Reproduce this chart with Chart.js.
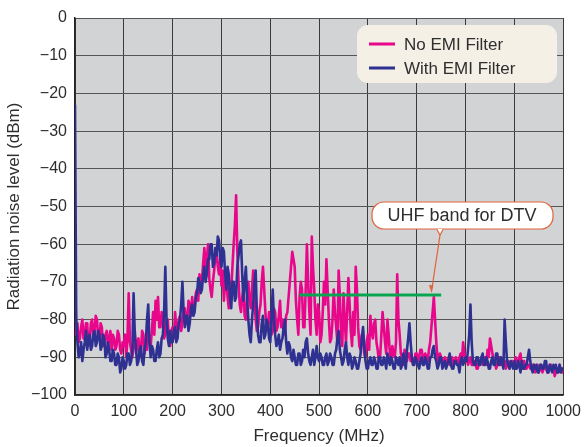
<!DOCTYPE html>
<html>
<head>
<meta charset="utf-8">
<script src="https://cdn.jsdelivr.net/npm/chart.js@4.4.1/dist/chart.umd.min.js"></script>
<style>
  html, body { margin: 0; padding: 0; background: #fff; }
  #wrap { width: 588px; height: 447px; position: relative; }
</style>
</head>
<body>
<div id="wrap"><canvas id="chart" width="588" height="447"></canvas></div>
<script>
// --- DATA (dBm, one value every 2.5 MHz from 0 to 1000 MHz) ---
const stepMHz = 2.5;
const freqs = Array.from({ length: 401 }, (_, i) => i * stepMHz);

// one row = 100 MHz
const noFilter = [
  -66,-84,-81,-86,-85,-82,-80,-85,-84,-81,-81,-87,-86,-81,-80,-84,-83,-79,-80,-85,-85,-81,-82,-87,-86,-84,-83,-87,-85,-83,-88,-84,-85,-88,-87,-83,-84,-88,-89,-86,
  -87,-84,-90,-85,-73,-86,-88,-90,-86,-83,-89,-86,-85,-90,-88,-83,-84,-89,-86,-88,-82,-86,-87,-83,-78,-84,-75,-80,-74,-82,-82,-78,-79,-85,-84,-80,-80,-86,-87,-83,
  -82,-85,-78,-82,-84,-80,-79,-83,-81,-77,-77,-81,-80,-75,-76,-79,-74,-78,-77,-73,-72,-75,-68,-72,-70,-65,-61,-66,-64,-60,-69,-72,-74,-70,-67,-63,-62,-66,-68,-64,
  -71,-67,-75,-70,-69,-74,-77,-70,-72,-66,-60,-55,-47,-62,-70,-76,-78,-74,-72,-79,-80,-74,-70,-75,-77,-72,-67,-74,-80,-83,-82,-78,-76,-70,-66,-72,-78,-83,-82,-78,
  -79,-84,-83,-77,-78,-83,-82,-79,-75,-82,-80,-84,-83,-79,-78,-74,-70,-66,-62,-64,-66,-75,-80,-84,-74,-70,-72,-82,-82,-72,-60,-70,-78,-84,-58,-66,-72,-80,-84,-76,
  -78,-86,-84,-78,-70,-76,-64,-72,-80,-86,-85,-80,-72,-78,-82,-86,-67,-74,-84,-87,-73,-80,-86,-78,-69,-76,-83,-87,-78,-84,-66,-72,-82,-87,-88,-84,-85,-89,-90,-86,
  -84,-88,-79,-83,-85,-81,-80,-86,-88,-91,-90,-84,-78,-82,-86,-89,-80,-84,-89,-91,-87,-89,-90,-86,-68,-80,-84,-89,-90,-92,-88,-90,-91,-89,-89,-91,-90,-92,-91,-89,
  -89,-91,-90,-88,-88,-90,-91,-89,-90,-91,-88,-86,-82,-78,-74,-80,-86,-90,-91,-89,-90,-92,-91,-90,-92,-91,-90,-92,-91,-90,-92,-91,-90,-91,-92,-90,-89,-91,-86,-89,
  -91,-90,-92,-91,-90,-92,-92,-91,-91,-93,-93,-91,-91,-90,-92,-91,-90,-92,-88,-90,-85,-87,-89,-91,-91,-93,-92,-90,-90,-92,-92,-91,-91,-93,-92,-91,-93,-92,-91,-92,
  -92,-90,-91,-92,-90,-89,-92,-91,-91,-93,-93,-92,-92,-93,-93,-92,-92,-94,-93,-92,-94,-93,-92,-94,-93,-92,-93,-94,-94,-92,-92,-93,-93,-95,-94,-93,-94,-92,-93,-94,
  -94
];

const withFilter = [
  -23,-80,-86,-90,-89,-86,-91,-88,-86,-83,-88,-85,-84,-88,-87,-84,-83,-87,-86,-83,-84,-88,-87,-84,-85,-90,-89,-86,-88,-91,-91,-88,-89,-92,-92,-89,-90,-94,-93,-90,
  -91,-93,-92,-89,-89,-92,-91,-88,-73,-84,-88,-92,-91,-88,-87,-91,-92,-88,-86,-80,-76,-86,-90,-87,-88,-91,-91,-88,-86,-90,-89,-85,-84,-78,-66,-80,-85,-87,-83,-86,
  -86,-83,-82,-86,-85,-81,-80,-76,-70,-78,-82,-79,-79,-83,-81,-77,-76,-79,-78,-74,-73,-69,-70,-73,-72,-68,-66,-70,-68,-64,-64,-60,-60,-66,-65,-61,-63,-58,-59,-64,
  -66,-61,-62,-68,-72,-66,-68,-74,-77,-70,-70,-75,-74,-66,-63,-60,-59,-68,-75,-70,-66,-74,-80,-84,-86,-80,-76,-70,-67,-78,-84,-86,-86,-81,-79,-85,-84,-80,-81,-85,
  -86,-79,-72,-80,-84,-87,-86,-84,-88,-86,-85,-82,-80,-86,-89,-86,-87,-90,-91,-88,-90,-92,-92,-89,-89,-92,-91,-88,-90,-86,-85,-89,-91,-92,-90,-88,-92,-90,-87,-90,
  -91,-89,-90,-92,-92,-90,-89,-92,-91,-89,-90,-92,-92,-89,-88,-85,-83,-88,-90,-92,-91,-88,-86,-90,-92,-89,-90,-93,-92,-90,-91,-93,-93,-91,-89,-85,-82,-87,-91,-93,
  -93,-91,-90,-92,-92,-90,-91,-93,-93,-90,-90,-92,-92,-90,-91,-93,-89,-91,-92,-90,-91,-93,-93,-90,-91,-92,-90,-93,-92,-89,-91,-93,-88,-85,-81,-86,-90,-92,-92,-90,
  -91,-92,-93,-91,-90,-92,-92,-90,-91,-93,-93,-90,-90,-88,-87,-90,-91,-93,-92,-90,-90,-93,-92,-91,-93,-92,-91,-89,-92,-93,-93,-91,-91,-92,-92,-94,-91,-90,-92,-91,
  -90,-91,-88,-84,-76,-86,-91,-92,-92,-90,-90,-92,-92,-90,-89,-92,-92,-90,-91,-93,-93,-91,-90,-92,-92,-89,-89,-92,-92,-90,-91,-93,-80,-86,-91,-92,-93,-91,-92,-93,
  -91,-93,-93,-91,-92,-94,-91,-93,-93,-92,-92,-90,-88,-91,-93,-94,-92,-93,-92,-94,-94,-92,-92,-93,-93,-91,-91,-94,-94,-92,-93,-94,-92,-93,-92,-94,-94,-92,-94,-93,
  -93
];

// UHF band for DTV marker
const uhfBand = [460, 750];
const uhfLevel = -73.5;

const seriesNames = ['No EMI Filter', 'With EMI Filter'];
const calloutText = 'UHF band for DTV';

const colors = {
  pink: '#e8078b',
  blue: '#2f3192',
  green: '#0aa550',
  plotBg: '#d1d3d4',
  legendBg: '#f4f0e6',
  callout: '#e0643c',
  text: '#2e2e2e'
};

const FONT = "'Liberation Sans', Arial, sans-serif";

const toPoints = (vals) => vals.map((v, i) => ({ x: freqs[i], y: v }));

// --- PLUGIN : fond gris + légende + bulle UHF ---
const decorPlugin = {
  id: 'decor',
  beforeDraw(chart) {
    const { ctx, chartArea: a } = chart;
    ctx.save();
    ctx.fillStyle = colors.plotBg;
    ctx.fillRect(a.left, a.top, a.right - a.left, a.bottom - a.top);
    ctx.restore();
  },
  afterDraw(chart) {
    const { ctx, scales } = chart;
    ctx.save();

    // legend box
    roundRect(ctx, 357, 25, 200, 58, 11);
    ctx.fillStyle = colors.legendBg;
    ctx.fill();
    ctx.font = `17px ${FONT}`;
    ctx.textBaseline = 'middle';
    ctx.textAlign = 'left';
    [[colors.pink, 44], [colors.blue, 68]].forEach(([c, y], i) => {
      ctx.strokeStyle = c;
      ctx.lineWidth = 3;
      ctx.beginPath();
      ctx.moveTo(369, y);
      ctx.lineTo(395, y);
      ctx.stroke();
      ctx.fillStyle = colors.text;
      ctx.fillText(seriesNames[i], 404, y + 1);
    });

    // callout
    const tipX = scales.x.getPixelForValue(730);
    const tipY = scales.y.getPixelForValue(uhfLevel) - 3;
    ctx.strokeStyle = colors.callout;
    ctx.lineWidth = 1.2;
    roundRect(ctx, 372, 202, 181, 27, 12);
    ctx.fillStyle = '#fff';
    ctx.fill();
    ctx.stroke();
    ctx.beginPath();
    ctx.moveTo(437, 229);
    ctx.lineTo(440, 235);
    ctx.lineTo(443, 229);
    ctx.fillStyle = '#fff';
    ctx.fill();
    ctx.beginPath();
    ctx.moveTo(437, 229.5);
    ctx.lineTo(440, 235);
    ctx.lineTo(443, 229.5);
    ctx.stroke();
    ctx.beginPath();
    ctx.moveTo(440, 235);
    ctx.lineTo(tipX, tipY);
    ctx.stroke();
    // arrow head
    ctx.beginPath();
    ctx.moveTo(tipX, tipY);
    ctx.lineTo(tipX - 2.5, tipY - 7);
    ctx.lineTo(tipX + 2, tipY - 6.5);
    ctx.closePath();
    ctx.fillStyle = colors.callout;
    ctx.fill();

    ctx.fillStyle = colors.text;
    ctx.font = `18px ${FONT}`;
    ctx.textAlign = 'center';
    ctx.fillText(calloutText, 462, 216);
    ctx.restore();
  }
};

function roundRect(ctx, x, y, w, h, r) {
  ctx.beginPath();
  ctx.moveTo(x + r, y);
  ctx.lineTo(x + w - r, y);
  ctx.arcTo(x + w, y, x + w, y + r, r);
  ctx.lineTo(x + w, y + h - r);
  ctx.arcTo(x + w, y + h, x + w - r, y + h, r);
  ctx.lineTo(x + r, y + h);
  ctx.arcTo(x, y + h, x, y + h - r, r);
  ctx.lineTo(x, y + r);
  ctx.arcTo(x, y, x + r, y, r);
  ctx.closePath();
}

const ctx = document.getElementById('chart').getContext('2d');
new Chart(ctx, {
  type: 'line',
  data: {
    datasets: [
      {
        label: 'UHF band for DTV',
        data: uhfBand.map(f => ({ x: f, y: uhfLevel })),
        borderColor: colors.green,
        borderWidth: 3,
        order: 0
      },
      {
        label: seriesNames[1],
        data: toPoints(withFilter),
        borderColor: colors.blue,
        borderWidth: 2.6,
        order: 1
      },
      {
        label: seriesNames[0],
        data: toPoints(noFilter),
        borderColor: colors.pink,
        borderWidth: 2.6,
        order: 2
      }
    ]
  },
  options: {
    responsive: false,
    animation: false,
    events: [],
    layout: { padding: { top: 18, right: 20, left: 0, bottom: 0 } },
    elements: {
      point: { radius: 0 },
      line: { tension: 0, borderJoinStyle: 'round', fill: false }
    },
    plugins: { legend: { display: false }, tooltip: { enabled: false } },
    scales: {
      x: {
        type: 'linear',
        min: 0,
        max: 1000,
        afterFit: (s) => { s.height = 52; },
        ticks: {
          stepSize: 100,
          padding: 7,
          maxRotation: 0,
          color: colors.text,
          font: { family: FONT, size: 16 },
          callback: (v) => String(v)
        },
        grid: { color: '#3a3a3a', lineWidth: 1, drawTicks: false },
        border: { color: '#222', width: 1.5 },
        title: {
          display: true,
          text: 'Frequency (MHz)',
          color: colors.text,
          font: { family: FONT, size: 17 },
          padding: { top: 0, bottom: 0 }
        }
      },
      y: {
        min: -100,
        max: 0,
        afterFit: (s) => { s.width = 75; },
        ticks: {
          stepSize: 10,
          padding: 8,
          color: colors.text,
          font: { family: FONT, size: 16 },
          callback: (v) => String(v).replace('-', '\u2212')
        },
        grid: { color: '#555', lineWidth: 1, drawTicks: false },
        border: { color: '#222', width: 1.5 },
        title: {
          display: true,
          text: 'Radiation noise level (dBm)',
          color: colors.text,
          font: { family: FONT, size: 17 },
          padding: { top: 4, bottom: 0 }
        }
      }
    }
  },
  plugins: [decorPlugin]
});
</script>
</body>
</html>
